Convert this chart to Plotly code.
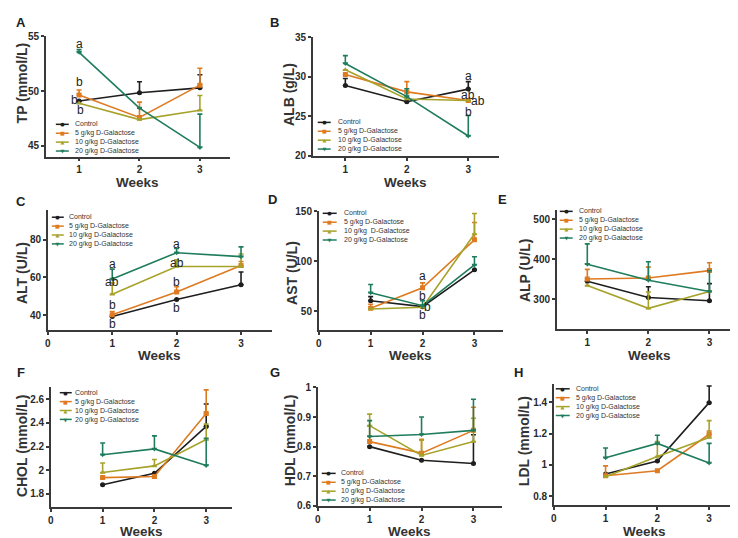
import plotly.graph_objects as go

W, H = 738, 538
weeks = [1, 2, 3]
groups = ["Control", "5 g/kg D-Galactose", "10 g/kg D-Galactose", "20 g/kg D-Galactose"]
colors = ["#1e1e1e", "#de7b22", "#a6a22a", "#1f7d5c"]
symbols = ["circle", "square", "triangle-up", "triangle-down"]
glyphs = ["●", "■", "▲", "▼"]

# means (rows: Control, 5, 10, 20 g/kg) and upper error-bar tops
tp_mean = [[49.1, 49.86, 50.3], [49.65, 47.6, 50.55], [48.9, 47.4, 48.25], [53.55, 48.45, 44.85]]
tp_top = [[49.1, 50.86, 51.5], [50.1, 49.0, 52.1], [48.9, 47.4, 49.6], [53.8, 48.45, 47.9]]
alb_mean = [[28.9, 26.85, 28.45], [30.3, 28.1, 27.0], [30.9, 27.2, 27.0], [31.7, 27.5, 22.5]]
alb_top = [[29.8, 26.85, 29.4], [30.3, 29.4, 27.0], [30.9, 27.2, 27.0], [32.7, 28.5, 25.1]]
alt_mean = [[39.3, 48.3, 56.1], [40.2, 52.3, 66.3], [51.1, 65.8, 65.8], [59.2, 73.1, 71.0]]
alt_top = [[39.3, 48.3, 62.9], [41.9, 55.0, 68.4], [57.1, 69.3, 72.4], [64.4, 75.3, 76.2]]
ast_mean = [[60.5, 54.6, 91.5], [53.0, 73.5, 121.6], [52.3, 54.0, 127.4], [68.6, 55.6, 96.4]]
ast_top = [[64.7, 54.6, 91.5], [57.0, 78.4, 138.9], [52.3, 54.0, 148.0], [76.8, 60.5, 104.6]]
alp_mean = [[345.5, 305.0, 297.0], [351.0, 353.5, 372.0], [334.8, 278.0, 320.0], [388.0, 348.0, 320.0]]
alp_top = [[345.5, 331.6, 339.6], [375.0, 380.5, 391.5], [334.8, 318.7, 320.0], [438.5, 394.0, 372.0]]
chol_mean = [[1.877, 1.973, 2.37], [1.937, 1.946, 2.48], [1.98, 2.036, 2.26], [2.13, 2.18, 2.04]]
chol_top = [[1.877, 1.973, 2.56], [1.937, 1.946, 2.68], [2.06, 2.09, 2.39], [2.23, 2.29, 2.27]]
hdl_mean = [[0.80, 0.754, 0.743], [0.817, 0.778, 0.855], [0.871, 0.77, 0.817], [0.834, 0.841, 0.855]]
hdl_top = [[0.80, 0.754, 0.84], [0.87, 0.825, 0.933], [0.91, 0.822, 0.896], [0.888, 0.90, 0.96]]
ldl_mean = [[0.942, 1.025, 1.398], [0.931, 0.963, 1.196], [0.925, 1.054, 1.175], [1.046, 1.1375, 1.0125]]
ldl_top = [[0.942, 1.025, 1.504], [0.994, 0.963, 1.217], [0.925, 1.15, 1.283], [1.108, 1.19, 1.1375]]

# significance letters: (week x, value y, text)
tp_letters = [(1, 54.3, "a"), (1, 50.8, "b"), (0.92, 49.2, "b"), (1.03, 48.25, "b")]
alb_letters = [(3, 30.1, "a"), (3, 27.7, "ab"), (3.16, 27.0, "ab"), (3, 25.6, "b")]
alt_letters = [(1, 67.0, "a"), (1, 57.7, "ab"), (1, 45.2, "b"), (1, 35.3, "b"),
               (2, 77.9, "a"), (2, 67.5, "ab"), (2, 57.7, "b"), (2, 43.6, "b")]
ast_letters = [(2, 85.0, "a"), (2, 65.7, "b"), (2.09, 54.0, "b"), (2, 46.0, "b")]

panels = [
    dict(lab="A", title="TP (mmol/L)", mean=tp_mean, top=tp_top, letters=tp_letters,
         px=(35, 220), py=(23, 146), xr=[0.45, 3.5], yr=[44, 55], xt=[1, 2, 3], yt=[45, 50, 55],
         labpos=(10, 9), ttl=(11, 70), wk=172, leg=(45, 58, 63, 126.5), groups=groups),
    dict(lab="B", title="ALB (g/L)", mean=alb_mean, top=alb_top, letters=alb_letters,
         px=(303, 490), py=(24, 145), xr=[0.47, 3.5], yr=[20, 35], xt=[1, 2, 3], yt=[20, 25, 30, 35],
         labpos=(265, 9), ttl=(279, 82), wk=172, leg=(308, 321, 327, 124.5), groups=groups),
    dict(lab="C", title="ALT (U/L)", mean=alt_mean, top=alt_top, letters=alt_letters,
         px=(37, 262), py=(200, 323), xr=[0, 3.48], yr=[32.2, 96], xt=[0, 1, 2, 3], yt=[40, 60, 80],
         labpos=(10, 192), ttl=(11, 265), wk=349, leg=(41, 53, 57, 221.5), groups=groups),
    dict(lab="D", title="AST (U/L)", mean=ast_mean, top=ast_top, letters=ast_letters,
         px=(309, 494), py=(202, 323), xr=[0, 3.55], yr=[31.4, 150], xt=[0, 1, 2, 3], yt=[50, 100, 150],
         labpos=(263, 190), ttl=(282, 265), wk=349, leg=(313, 327, 333, 217.5),
         groups=["Control", "5 g/kg D-Galactose", "10 g/kg  D-Galactose", "20 g/kg D-Galactose"]),
    dict(lab="E", title="ALP (U/L)", mean=alp_mean, top=alp_top, letters=[],
         px=(548, 735), py=(200, 322), xr=[0.5, 3.55], yr=[227, 524], xt=[1, 2, 3], yt=[300, 400, 500],
         labpos=(494, 190), ttl=(516, 262), wk=349, leg=(551, 564, 569, 215.5), groups=groups),
    dict(lab="F", title="CHOL (mmol/L)", mean=chol_mean, top=chol_top, letters=[],
         px=(40, 222), py=(382, 504), xr=[0, 3.5], yr=[1.69, 2.70], xt=[0, 1, 2, 3],
         yt=[1.8, 2.0, 2.2, 2.4, 2.6],
         labpos=(10, 367), ttl=(11, 442), wk=529.5, leg=(49, 61, 63, 401), groups=groups),
    dict(lab="G", title="HDL (mmol/L)", mean=hdl_mean, top=hdl_top, letters=[],
         px=(308, 493), py=(382, 503), xr=[0, 3.55], yr=[0.6, 1.0], xt=[0, 1, 2, 3],
         yt=[0.6, 0.7, 0.8, 0.9, 1.0],
         labpos=(265, 367), ttl=(280, 436), wk=529.5, leg=(312, 326, 330, 483.5), groups=groups),
    dict(lab="H", title="LDL (mmol/L)", mean=ldl_mean, top=ldl_top, letters=[],
         px=(545, 727), py=(378, 502), xr=[0, 3.5], yr=[0.745, 1.52], xt=[0, 1, 2, 3],
         yt=[0.8, 1.0, 1.2, 1.4],
         labpos=(510, 367), ttl=(515, 437), wk=529.5, leg=(547, 561, 566, 397), groups=groups),
]


def fx(x):
    return x / W


def fy(y):
    return 1 - y / H


AX = "#3a3a3a"
FONT = "Liberation Sans, Arial, sans-serif"
LEGFS = 7
LINE_H = LEGFS * 1.3
fig = go.Figure()
annotations = []
shapes = []
layout = {}

for i, p in enumerate(panels):
    n = "" if i == 0 else str(i + 1)
    xa, ya = "x" + n, "y" + n
    for g in range(4):
        errs = [t - m for t, m in zip(p["top"][g], p["mean"][g])]
        fig.add_trace(go.Scatter(
            x=weeks, y=p["mean"][g], mode="lines+markers", xaxis=xa, yaxis=ya,
            line=dict(color=colors[g], width=1.6),
            marker=dict(symbol=symbols[g], size=5, color=colors[g]),
            error_y=dict(type="data", symmetric=False, array=errs, arrayminus=[0, 0, 0],
                         color=colors[g], thickness=1.6, width=2.5),
            showlegend=False, name=groups[g]))
    common = dict(showline=True, linecolor=AX, linewidth=1.5, ticks="outside", ticklen=3,
                  tickwidth=1.5, tickcolor=AX, showgrid=False, zeroline=False,
                  tickfont=dict(family=FONT, size=10, color="#2a2a2a", weight="bold"))
    layout["xaxis" + n] = dict(common, domain=[fx(p["px"][0]), fx(p["px"][1])], range=p["xr"],
                               tickvals=p["xt"], anchor=ya)
    layout["yaxis" + n] = dict(common, domain=[fy(p["py"][1]), fy(p["py"][0])], range=p["yr"],
                               tickvals=p["yt"], anchor=xa)
    # panel label
    annotations.append(dict(text="<b>%s</b>" % p["lab"], x=fx(p["labpos"][0]), y=fy(p["labpos"][1]),
                            xref="paper", yref="paper", showarrow=False, xanchor="center",
                            yanchor="middle", borderpad=0,
                            font=dict(family=FONT, size=13, color="#222")))
    # y title
    annotations.append(dict(text="<b>%s</b>" % p["title"], x=fx(p["ttl"][0]), y=fy(p["ttl"][1]),
                            xref="paper", yref="paper", showarrow=False, textangle=-90,
                            xanchor="center", yanchor="middle", borderpad=0,
                            font=dict(family=FONT, size=14, color="#333")))
    # x title
    annotations.append(dict(text="<b>Weeks</b>", x=fx((p["px"][0] + p["px"][1]) / 2), y=fy(p["wk"]),
                            xref="paper", yref="paper", showarrow=False, xanchor="center",
                            yanchor="middle", borderpad=0,
                            font=dict(family=FONT, size=13.5, color="#333")))
    # letters
    for (lx, ly, lt) in p["letters"]:
        annotations.append(dict(text=lt, x=lx, y=ly, xref=xa, yref=ya, showarrow=False,
                                xanchor="center", yanchor="middle", borderpad=0,
                                font=dict(family=FONT, size=12, color="#222")))
    # custom compact legend
    x0, x1, xt, yc = p["leg"]
    for g in range(4):
        yy = fy(yc + (g - 1.5) * LINE_H)
        shapes.append(dict(type="line", xref="paper", yref="paper", x0=fx(x0), x1=fx(x1),
                           y0=yy, y1=yy, line=dict(color=colors[g], width=1.5)))
    glyph_txt = "<br>".join('<span style="color:%s;font-size:5px">%s</span>' % (colors[g], glyphs[g])
                            for g in range(4))
    annotations.append(dict(text=glyph_txt, x=fx((x0 + x1) / 2), y=fy(yc), xref="paper",
                            yref="paper", showarrow=False, xanchor="center", yanchor="middle",
                            borderpad=0, align="center",
                            font=dict(family="DejaVu Sans", size=LEGFS, color="#333")))
    annotations.append(dict(text="<br>".join(p["groups"]), x=fx(xt), y=fy(yc), xref="paper",
                            yref="paper", showarrow=False, xanchor="left", yanchor="middle",
                            borderpad=0, align="left",
                            font=dict(family=FONT, size=LEGFS, color="#333")))

fig.update_layout(width=W, height=H, margin=dict(l=0, r=0, t=0, b=0),
                  paper_bgcolor="white", plot_bgcolor="white", showlegend=False,
                  annotations=annotations, shapes=shapes, **layout)
fig.write_html("out.html")
